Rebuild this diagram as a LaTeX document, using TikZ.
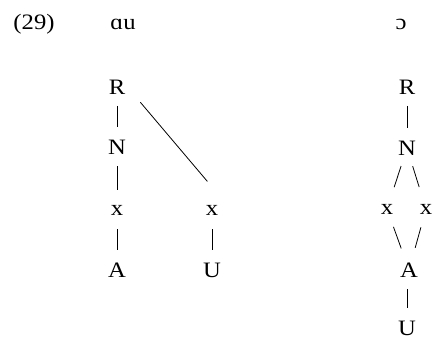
\documentclass[tikz,border=0pt]{standalone}
\usepackage{fontspec}
\setmainfont[FakeStretch=1.12]{Liberation Serif}
\usetikzlibrary{positioning}
\tikzset{
  tag/.style={inner sep=2pt,font=\fontsize{22}{26}\selectfont},
  seg/.style={line width=0.8pt,draw=black,shorten <=19pt,shorten >=20pt},
  slash/.style={line width=0.8pt,draw=black,shorten <=19pt,shorten >=23pt},
  link/.style={line width=0.8pt,draw=black,shorten <=20pt,shorten >=20pt}
}

\begin{document}
\begin{tikzpicture}[x=1pt,y=-1pt,on grid,node distance=60pt]
  \useasboundingbox (0,0) rectangle (435,339);

  \node (num) [tag,anchor=base] at (34,30) {(29)};
  \node (au) [tag,anchor=base] at (123,30) {ɑu};
  \node (oo) [tag,anchor=base] at (401,30) {ɔ};

  % left tree
  \node (R1) [tag] at (117,87) {R};
  \node (N1) [tag,below=of R1] {N};
  \node (x1) [tag,below=63pt of N1] {x};
  \node (A1) [tag,below=of x1] {A};
  \node (x2) [tag,right=95pt of x1] {x};
  \node (U1) [tag,below=of x2] {U};

  \draw[seg] (R1.center) -- (N1.center);
  \draw[seg] (N1.center) -- (x1.center);
  \draw[seg] (x1.center) -- (A1.center);
  \draw[seg] (x2.center) -- (U1.center);
  \draw[link] (R1.east) -- ([yshift=6pt]x2.north east);

  % right tree
  \node (R2) [tag] at (407,87) {R};
  \node (N2) [tag,below=61pt of R2] {N};
  \node (xL) [tag,below left=61pt and 20pt of N2] {x};
  \node (xR) [tag,below right=61pt and 19pt of N2] {x};
  \node (A2) [tag,below right=61pt and 22pt of xL] {A};
  \node (U2) [tag,below left=58pt and 2pt of A2] {U};

  \draw[seg] (R2.center) -- (N2.center);
  \draw[slash] (N2.center) -- (xL.center);
  \draw[slash] (N2.center) -- (xR.center);
  \draw[slash] (xL.center) -- (A2.center);
  \draw[slash] (xR.center) -- (A2.center);
  \draw[seg] (A2.center -| U2.center) -- (U2.center);
\end{tikzpicture}
\end{document}
